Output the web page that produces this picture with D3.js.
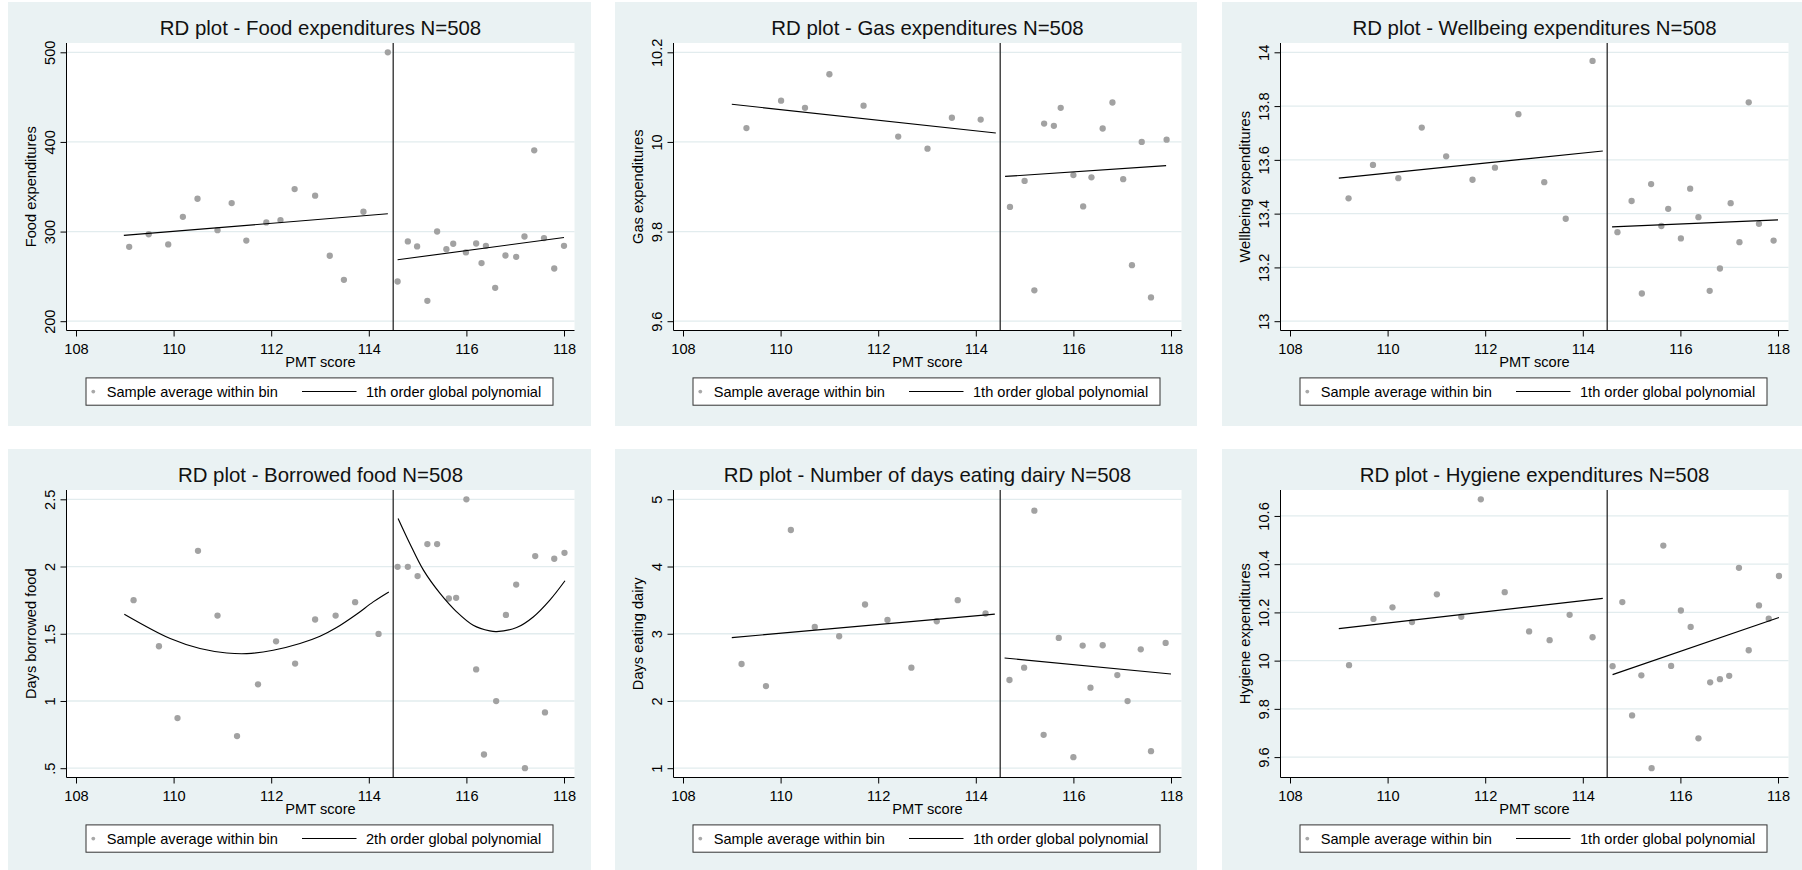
<!DOCTYPE html>
<html>
<head>
<meta charset="utf-8">
<script src="https://cdn.jsdelivr.net/npm/d3@7"></script>
<style>
html, body { margin: 0; padding: 0; background: #ffffff; }
svg { display: block; font-family: "Liberation Sans", Arial, Helvetica, sans-serif; }
</style>
</head>
<body>
<svg id="chart" width="1802" height="870"></svg>
<script>
// ---------------- DATA ----------------
const xTicks = [108, 110, 112, 114, 116, 118];
const cutoff = 114.5;
const xAxisTitle = "PMT score";
const legendBinLabel = "Sample average within bin";

const titles = [
  "RD plot - Food expenditures N=508",
  "RD plot - Gas expenditures N=508",
  "RD plot - Wellbeing expenditures N=508",
  "RD plot - Borrowed food N=508",
  "RD plot - Number of days eating dairy N=508",
  "RD plot - Hygiene expenditures N=508"
];
const yTitles = [
  "Food expenditures", "Gas expenditures", "Wellbeing expenditures",
  "Days borrowed food", "Days eating dairy", "Hygiene expenditures"
];
const fitLabels = [
  "1th order global polynomial", "1th order global polynomial", "1th order global polynomial",
  "2th order global polynomial", "1th order global polynomial", "1th order global polynomial"
];

// y ticks and their labels
const foodTicks = [200, 300, 400, 500];
const foodTickLabels = ["200", "300", "400", "500"];
const gasTicks = [9.6, 9.8, 10, 10.2];
const gasTickLabels = ["9.6", "9.8", "10", "10.2"];
const wellTicks = [13, 13.2, 13.4, 13.6, 13.8, 14];
const wellTickLabels = ["13", "13.2", "13.4", "13.6", "13.8", "14"];
const borrowTicks = [0.5, 1, 1.5, 2, 2.5];
const borrowTickLabels = [".5", "1", "1.5", "2", "2.5"];
const dairyTicks = [1, 2, 3, 4, 5];
const dairyTickLabels = ["1", "2", "3", "4", "5"];
const hygTicks = [9.6, 9.8, 10, 10.2, 10.4, 10.6];
const hygTickLabels = ["9.6", "9.8", "10", "10.2", "10.4", "10.6"];

// bin averages [PMT score, value]
const foodBins = [
  [109.09,283],[109.49,297],[109.89,285.6],[110.19,316.5],[110.49,336.6],[110.9,301.6],
  [111.19,331.8],[111.49,290],[111.9,310.2],[112.19,312.8],[112.48,347.4],[112.9,340],
  [113.2,273],[113.49,246.2],[113.89,322.1],[114.39,500],
  [114.59,244.3],[114.8,289],[114.99,283.4],[115.2,222.7],[115.4,300.1],[115.59,280.4],
  [115.73,286.4],[115.99,276.7],[116.2,286.7],[116.31,264.8],[116.4,284.1],[116.59,237.2],
  [116.8,273.3],[117.02,271.8],[117.19,294.5],[117.39,390.6],[117.59,292.7],[117.8,258.8],[118.0,284.1]
];
const foodFitL = [[108.98,295.7],[114.39,319.9]];
const foodFitR = [[114.59,268.5],[118.0,293.4]];

const gasBins = [
  [109.3,10.031],[110.01,10.092],[110.5,10.076],[111.0,10.151],[111.7,10.081],[112.41,10.012],
  [113.01,9.985],[113.51,10.054],[114.1,10.050],
  [114.7,9.855],[115.0,9.913],[115.2,9.669],[115.4,10.041],[115.6,10.036],[115.74,10.076],
  [116.0,9.926],[116.2,9.856],[116.37,9.921],[116.6,10.030],[116.8,10.088],[117.02,9.917],
  [117.2,9.725],[117.4,10.0],[117.59,9.653],[117.91,10.005]
];
const gasFitL = [[109.0,10.084],[114.41,10.020]];
const gasFitR = [[114.6,9.923],[117.9,9.947]];

const wellBins = [
  [109.2,13.457],[109.7,13.581],[110.22,13.532],[110.7,13.72],[111.2,13.613],[111.74,13.526],
  [112.2,13.571],[112.68,13.770],[113.21,13.517],[113.65,13.381],[114.2,13.968],
  [114.71,13.331],[115.0,13.447],[115.21,13.103],[115.4,13.51],[115.61,13.354],[115.75,13.418],
  [116.01,13.308],[116.2,13.493],[116.37,13.387],[116.6,13.113],[116.81,13.196],[117.03,13.439],
  [117.21,13.294],[117.4,13.814],[117.61,13.362],[117.91,13.300]
];
const wellFitL = [[109.0,13.532],[114.41,13.633]];
const wellFitR = [[114.6,13.351],[118.0,13.377]];

const borrowBins = [
  [109.18,1.750],[109.7,1.407],[110.08,0.873],[110.5,2.117],[110.9,1.635],[111.3,0.739],
  [111.73,1.124],[112.1,1.444],[112.49,1.278],[112.9,1.606],[113.32,1.635],[113.72,1.735],[114.2,1.499],
  [114.59,1.998],[114.8,1.998],[115.0,1.929],[115.2,2.167],[115.4,2.167],[115.64,1.762],
  [115.79,1.767],[116.0,2.5],[116.2,1.235],[116.36,0.602],[116.61,0.999],[116.81,1.640],
  [117.02,1.866],[117.2,0.5],[117.41,2.078],[117.61,0.915],[117.8,2.058],[118.01,2.102]
];
const borrowFitL = [
  [108.99,1.645],[109.93,1.464],[110.54,1.390],[111.09,1.357],[111.5,1.352],[112.04,1.377],
  [112.59,1.427],[113.0,1.481],[113.34,1.546],[113.75,1.645],[114.09,1.737],[114.41,1.811]
];
const borrowFitR = [
  [114.6,2.358],[114.84,2.172],[115.12,1.973],[115.46,1.800],[115.8,1.663],[116.14,1.563],
  [116.48,1.521],[116.62,1.516],[117.03,1.546],[117.37,1.625],[117.71,1.750],[118.02,1.894]
];

const dairyBins = [
  [109.2,2.550],[109.7,2.222],[110.21,4.543],[110.7,3.102],[111.2,2.963],[111.73,3.435],
  [112.19,3.206],[112.68,2.496],[113.2,3.186],[113.63,3.499],[114.2,3.301],
  [114.69,2.312],[114.99,2.496],[115.2,4.831],[115.39,1.497],[115.7,2.938],[116.0,1.164],
  [116.19,2.824],[116.35,2.198],[116.6,2.829],[116.9,2.386],[117.11,1.999],[117.38,2.769],
  [117.59,1.253],[117.89,2.863]
];
const dairyFitL = [[109.0,2.943],[114.39,3.291]];
const dairyFitR = [[114.59,2.640],[118.0,2.401]];

const hygBins = [
  [109.21,9.981],[109.71,10.173],[110.1,10.221],[110.5,10.160],[111.01,10.275],[111.51,10.182],
  [111.91,10.669],[112.4,10.284],[112.9,10.121],[113.32,10.085],[113.73,10.190],[114.2,10.097],
  [114.61,9.977],[114.81,10.243],[115.01,9.773],[115.2,9.939],[115.41,9.554],[115.65,10.477],
  [115.81,9.978],[116.01,10.208],[116.21,10.140],[116.37,9.678],[116.61,9.910],[116.81,9.923],
  [117.0,9.937],[117.2,10.385],[117.4,10.043],[117.61,10.229],[117.81,10.174],[118.02,10.351]
];
const hygFitL = [[109.0,10.133],[114.41,10.258]];
const hygFitR = [[114.61,9.942],[118.02,10.179]];

const panels = [
  { ticks: foodTicks,   labels: foodTickLabels,   bins: foodBins,   fitL: foodFitL,   fitR: foodFitR },
  { ticks: gasTicks,    labels: gasTickLabels,    bins: gasBins,    fitL: gasFitL,    fitR: gasFitR },
  { ticks: wellTicks,   labels: wellTickLabels,   bins: wellBins,   fitL: wellFitL,   fitR: wellFitR },
  { ticks: borrowTicks, labels: borrowTickLabels, bins: borrowBins, fitL: borrowFitL, fitR: borrowFitR },
  { ticks: dairyTicks,  labels: dairyTickLabels,  bins: dairyBins,  fitL: dairyFitL,  fitR: dairyFitR },
  { ticks: hygTicks,    labels: hygTickLabels,    bins: hygBins,    fitL: hygFitL,    fitR: hygFitR }
].map((p, i) => Object.assign(p, { title: titles[i], yTitle: yTitles[i], fitLabel: fitLabels[i] }));

// ---------------- LAYOUT ----------------
const svg = d3.select("#chart");
const BG = "#eaf2f3";
const bgX = [8, 615, 1222], bgW = [583, 582, 580];
const bgY = [2, 449], bgH = [424, 424];
const padL = 58.5, padT = 41, plotW = 508, plotH = 287.5;
const xInset = 9.5, xSpan = 488, yInset = 9.3;
const fontMain = 14.6;

panels.forEach((p, i) => {
  const col = i % 3, row = Math.floor(i / 3);
  const x0 = bgX[col], y0 = bgY[row];
  const g = svg.append("g");

  g.append("rect").attr("x", x0).attr("y", y0).attr("width", bgW[col]).attr("height", bgH[row]).attr("fill", BG);

  const L = x0 + padL, T = y0 + padT, B = T + plotH, R = L + plotW;

  const x = d3.scaleLinear().domain([108, 118]).range([L + xInset, L + xInset + xSpan]);
  const allY = p.ticks.concat(p.bins.map(d => d[1]), p.fitL.map(d => d[1]), p.fitR.map(d => d[1]));
  const y = d3.scaleLinear().domain(d3.extent(allY)).range([B - yInset, T + yInset]);

  // plot region
  g.append("rect").attr("x", L).attr("y", T).attr("width", plotW).attr("height", plotH).attr("fill", "#ffffff");

  // grid lines
  g.append("g").selectAll("line").data(p.ticks).join("line")
    .attr("x1", L).attr("x2", R)
    .attr("y1", d => y(d)).attr("y2", d => y(d))
    .attr("stroke", "#e2ecee").attr("stroke-width", 1.3);

  // cutoff line
  g.append("line")
    .attr("x1", x(cutoff)).attr("x2", x(cutoff)).attr("y1", T).attr("y2", B)
    .attr("stroke", "#2a2a2a").attr("stroke-width", 1.3);

  // bin markers
  g.append("g").selectAll("circle").data(p.bins).join("circle")
    .attr("cx", d => x(d[0])).attr("cy", d => y(d[1])).attr("r", 3.15)
    .attr("fill", "#a2a2a2");

  // fits
  const line = d3.line().x(d => x(d[0])).y(d => y(d[1])).curve(d3.curveCatmullRom);
  [p.fitL, p.fitR].forEach(f => {
    g.append("path").attr("d", line(f)).attr("fill", "none")
      .attr("stroke", "#000").attr("stroke-width", 1.15);
  });

  // y axis ticks + labels
  const yAxis = g.append("g").attr("transform", `translate(${L},0)`)
    .call(d3.axisLeft(y).tickValues(p.ticks).tickSize(6).tickSizeOuter(0)
      .tickFormat((d, j) => p.labels[j]));
  yAxis.select(".domain").remove();
  yAxis.selectAll("line").attr("stroke", "#000");
  yAxis.selectAll("text")
    .attr("x", null).attr("dy", null)
    .attr("text-anchor", "middle")
    .attr("transform", "translate(-11.7,0) rotate(-90)")
    .attr("font-size", fontMain).attr("fill", "#000")
    .style("font-family", "'Liberation Sans', Arial, sans-serif");

  // x axis ticks + labels
  const xAxis = g.append("g").attr("transform", `translate(0,${B})`)
    .call(d3.axisBottom(x).tickValues(xTicks).tickSize(6).tickSizeOuter(0).tickFormat(d3.format("d")));
  xAxis.select(".domain").remove();
  xAxis.selectAll("line").attr("stroke", "#000");
  xAxis.selectAll("text")
    .attr("y", 23).attr("dy", null)
    .attr("font-size", fontMain).attr("fill", "#000")
    .style("font-family", "'Liberation Sans', Arial, sans-serif");

  // axis lines
  g.append("line").attr("x1", L).attr("x2", L).attr("y1", T).attr("y2", B)
    .attr("stroke", "#000").attr("stroke-width", 1);
  g.append("line").attr("x1", L).attr("x2", R).attr("y1", B).attr("y2", B)
    .attr("stroke", "#000").attr("stroke-width", 1);

  // titles
  g.append("text").attr("x", L + plotW / 2).attr("y", T - 8)
    .attr("text-anchor", "middle").attr("font-size", 20.4).attr("fill", "#111")
    .text(p.title);
  g.append("text").attr("transform", `translate(${L - 30.5},${(T + B) / 2}) rotate(-90)`)
    .attr("text-anchor", "middle").attr("font-size", fontMain).attr("fill", "#000")
    .text(p.yTitle);
  g.append("text").attr("x", L + plotW / 2).attr("y", B + 36.5)
    .attr("text-anchor", "middle").attr("font-size", fontMain).attr("fill", "#000")
    .text(xAxisTitle);

  // legend
  const lx = L + 19.5, ly = B + 47.4, lw = 467, lh = 27.3, lcy = ly + lh / 2;
  g.append("rect").attr("x", lx).attr("y", ly).attr("width", lw).attr("height", lh)
    .attr("fill", "#fff").attr("stroke", "#333").attr("stroke-width", 1);
  g.append("circle").attr("cx", lx + 7.3).attr("cy", lcy).attr("r", 1.9).attr("fill", "#a8a8a8");
  g.append("text").attr("x", lx + 20.7).attr("y", ly + 19.3)
    .attr("font-size", fontMain).attr("fill", "#000").text(legendBinLabel);
  g.append("line").attr("x1", lx + 216).attr("x2", lx + 270.5).attr("y1", lcy).attr("y2", lcy)
    .attr("stroke", "#000").attr("stroke-width", 1.1);
  g.append("text").attr("x", lx + 280).attr("y", ly + 19.3)
    .attr("font-size", fontMain).attr("fill", "#000").text(p.fitLabel);
});
</script>
</body>
</html>
